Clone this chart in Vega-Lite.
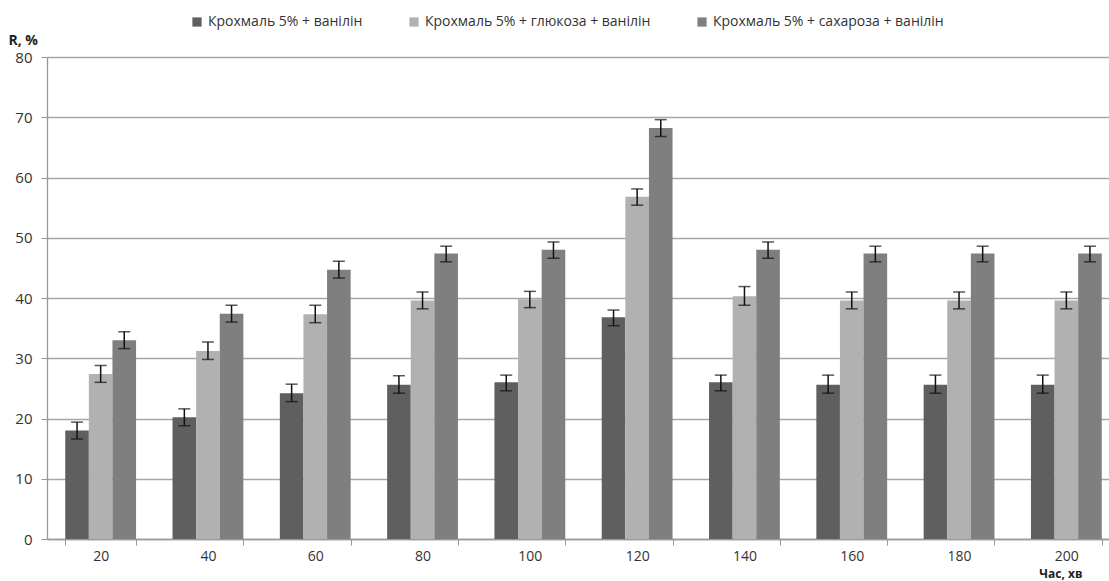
{
  "$schema": "https://vega.github.io/schema/vega-lite/v6.json",
  "width": 1073,
  "height": 482,
  "autosize": {"type": "none"},
  "padding": {"left": 47, "top": 57, "right": -11, "bottom": 42},
  "background": "white",
  "config": {
    "view": {"stroke": null},
    "font": "Open Sans",
    "axis": {"labelFont": "Open Sans", "labelColor": "#333333", "labelFontSize": 15}
  },
  "data": {
    "values": [
      {"t": 20, "s": "Крохмаль 5% + ванілін", "v": 18.0, "lo": 16.6, "hi": 19.4},
      {"t": 20, "s": "Крохмаль 5% + глюкоза + ванілін", "v": 27.4, "lo": 26.0, "hi": 28.8},
      {"t": 20, "s": "Крохмаль 5% + сахароза + ванілін", "v": 33.0, "lo": 31.6, "hi": 34.4},
      {"t": 40, "s": "Крохмаль 5% + ванілін", "v": 20.2, "lo": 18.8, "hi": 21.6},
      {"t": 40, "s": "Крохмаль 5% + глюкоза + ванілін", "v": 31.2, "lo": 29.8, "hi": 32.7},
      {"t": 40, "s": "Крохмаль 5% + сахароза + ванілін", "v": 37.4, "lo": 36.0, "hi": 38.8},
      {"t": 60, "s": "Крохмаль 5% + ванілін", "v": 24.2, "lo": 22.8, "hi": 25.7},
      {"t": 60, "s": "Крохмаль 5% + глюкоза + ванілін", "v": 37.3, "lo": 35.9, "hi": 38.8},
      {"t": 60, "s": "Крохмаль 5% + сахароза + ванілін", "v": 44.7, "lo": 43.3, "hi": 46.1},
      {"t": 80, "s": "Крохмаль 5% + ванілін", "v": 25.6, "lo": 24.2, "hi": 27.1},
      {"t": 80, "s": "Крохмаль 5% + глюкоза + ванілін", "v": 39.6, "lo": 38.2, "hi": 41.0},
      {"t": 80, "s": "Крохмаль 5% + сахароза + ванілін", "v": 47.4, "lo": 46.0, "hi": 48.6},
      {"t": 100, "s": "Крохмаль 5% + ванілін", "v": 26.0, "lo": 24.6, "hi": 27.2},
      {"t": 100, "s": "Крохмаль 5% + глюкоза + ванілін", "v": 39.8, "lo": 38.4, "hi": 41.1},
      {"t": 100, "s": "Крохмаль 5% + сахароза + ванілін", "v": 48.0, "lo": 46.6, "hi": 49.3},
      {"t": 120, "s": "Крохмаль 5% + ванілін", "v": 36.8, "lo": 35.4, "hi": 38.0},
      {"t": 120, "s": "Крохмаль 5% + глюкоза + ванілін", "v": 56.8, "lo": 55.4, "hi": 58.1},
      {"t": 120, "s": "Крохмаль 5% + сахароза + ванілін", "v": 68.2, "lo": 66.8, "hi": 69.6},
      {"t": 140, "s": "Крохмаль 5% + ванілін", "v": 26.0, "lo": 24.6, "hi": 27.2},
      {"t": 140, "s": "Крохмаль 5% + глюкоза + ванілін", "v": 40.3, "lo": 38.8, "hi": 41.9},
      {"t": 140, "s": "Крохмаль 5% + сахароза + ванілін", "v": 48.0, "lo": 46.6, "hi": 49.3},
      {"t": 160, "s": "Крохмаль 5% + ванілін", "v": 25.6, "lo": 24.2, "hi": 27.2},
      {"t": 160, "s": "Крохмаль 5% + глюкоза + ванілін", "v": 39.6, "lo": 38.2, "hi": 41.0},
      {"t": 160, "s": "Крохмаль 5% + сахароза + ванілін", "v": 47.4, "lo": 46.0, "hi": 48.6},
      {"t": 180, "s": "Крохмаль 5% + ванілін", "v": 25.6, "lo": 24.2, "hi": 27.2},
      {"t": 180, "s": "Крохмаль 5% + глюкоза + ванілін", "v": 39.6, "lo": 38.2, "hi": 41.0},
      {"t": 180, "s": "Крохмаль 5% + сахароза + ванілін", "v": 47.4, "lo": 46.0, "hi": 48.6},
      {"t": 200, "s": "Крохмаль 5% + ванілін", "v": 25.6, "lo": 24.2, "hi": 27.2},
      {"t": 200, "s": "Крохмаль 5% + глюкоза + ванілін", "v": 39.6, "lo": 38.2, "hi": 41.0},
      {"t": 200, "s": "Крохмаль 5% + сахароза + ванілін", "v": 47.4, "lo": 46.0, "hi": 48.6}
    ]
  },
  "encoding": {
    "x": {
      "field": "t", "type": "ordinal",
      "scale": {"paddingInner": 0.34, "paddingOuter": 0.17},
      "axis": {
        "title": "Час, хв", "labelAngle": 0, "tickBand": "extent",
        "domainColor": "#999999", "domainWidth": 1.3, "tickColor": "#999999", "tickSize": 6,
        "labelPadding": 4, "labelFontSize": 14,
        "titleFont": "Open Sans", "titleFontSize": 12, "titleFontWeight": "bold", "titleColor": "#222222",
        "titleAnchor": "end", "titleAlign": "right", "titleX": 1035, "titleY": 38, "titleBaseline": "alphabetic"
      }
    },
    "xOffset": {
      "field": "s", "type": "nominal",
      "sort": ["Крохмаль 5% + ванілін", "Крохмаль 5% + глюкоза + ванілін", "Крохмаль 5% + сахароза + ванілін"]
    }
  },
  "layer": [
    {
      "mark": {"type": "bar"},
      "encoding": {
        "y": {
          "field": "v", "type": "quantitative",
          "scale": {"domain": [0, 80]},
          "axis": {
            "title": "R, %", "values": [0, 10, 20, 30, 40, 50, 60, 70, 80],
            "grid": true, "gridColor": "#a6a6a6", "gridWidth": 1.4,
            "domainColor": "#999999", "domainWidth": 1.3, "tickColor": "#999999", "tickSize": 6, "labelPadding": 9,
            "titleAngle": 0, "titleAlign": "left", "titleX": -39, "titleY": -13, "titleBaseline": "alphabetic",
            "titleFont": "Open Sans", "titleFontSize": 14, "titleFontWeight": "bold", "titleColor": "#222222"
          }
        },
        "color": {
          "field": "s", "type": "nominal",
          "scale": {
            "domain": ["Крохмаль 5% + ванілін", "Крохмаль 5% + глюкоза + ванілін", "Крохмаль 5% + сахароза + ванілін"],
            "range": ["#5f5f5f", "#b1b1b1", "#7f7f7f"]
          },
          "legend": {
            "title": null, "orient": "none", "direction": "horizontal",
            "legendX": 143, "legendY": -42,
            "symbolType": "square", "symbolSize": 85, "symbolStrokeWidth": 0,
            "labelFont": "Open Sans", "labelFontSize": 14, "labelColor": "#333333", "labelLimit": 0,
            "columnPadding": 44, "labelOffset": 4
          }
        }
      }
    },
    {
      "mark": {"type": "rule", "color": "#111111", "strokeWidth": 1.5},
      "encoding": {
        "y": {"field": "lo", "type": "quantitative"},
        "y2": {"field": "hi"}
      }
    },
    {
      "mark": {"type": "tick", "color": "#111111", "thickness": 1.5, "size": 12},
      "encoding": {"y": {"field": "lo", "type": "quantitative"}}
    },
    {
      "mark": {"type": "tick", "color": "#111111", "thickness": 1.5, "size": 12},
      "encoding": {"y": {"field": "hi", "type": "quantitative"}}
    }
  ]
}
